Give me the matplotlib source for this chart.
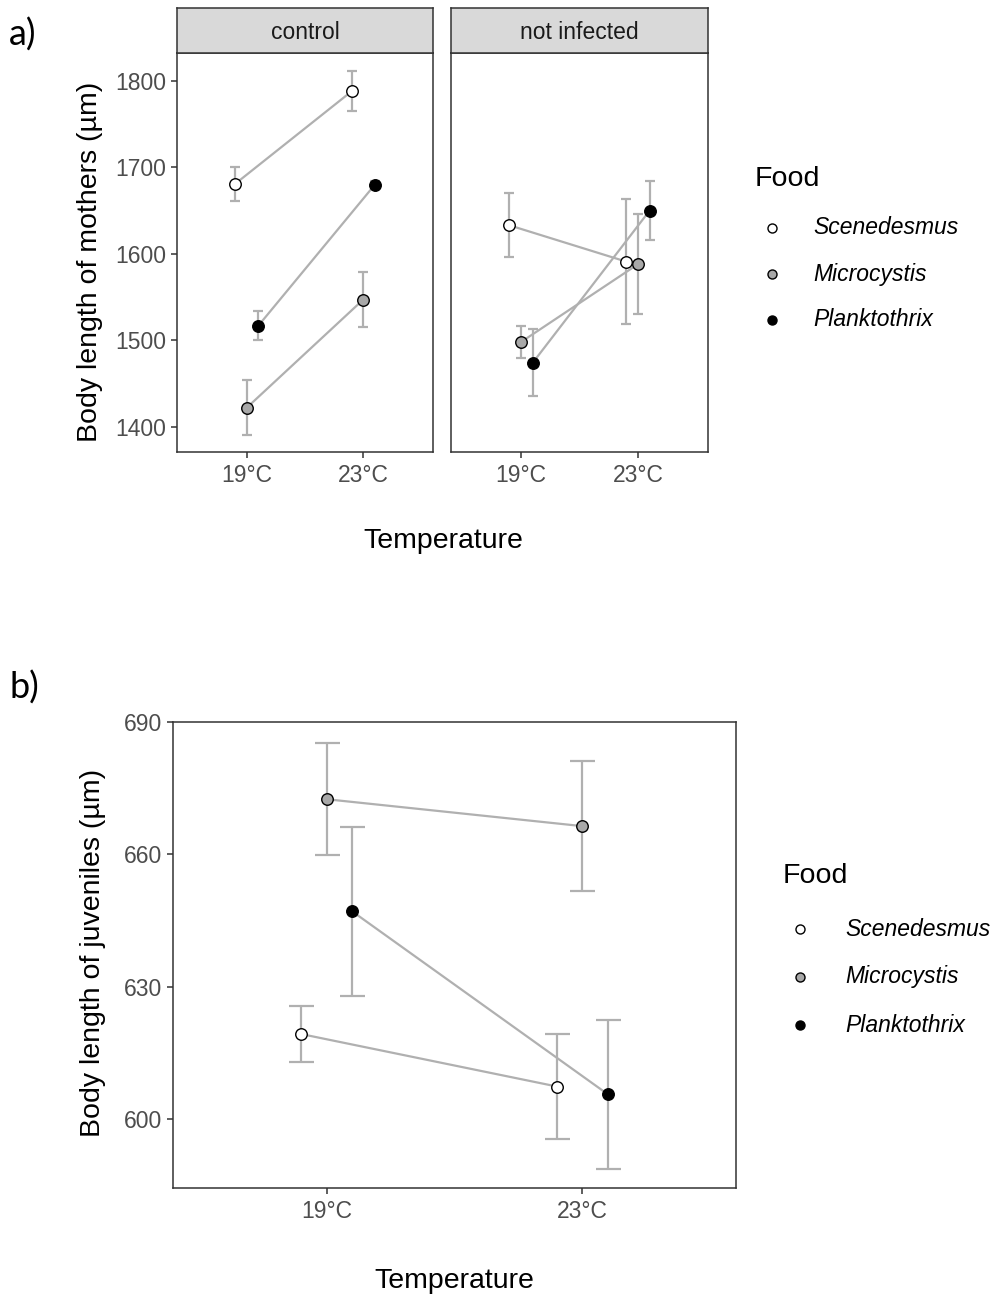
#import Libraries
import numpy as np
import matplotlib
matplotlib.use("Agg")
from matplotlib import pyplot as plt
from matplotlib.lines import Line2D
##################################################

# categories
foods = ["Scenedesmus", "Microcystis", "Planktothrix"]
temps = ["19°C", "23°C"]
facets = ["control", "not infected"]

# body length of mothers (mean, se) per facet / food
mothers_control_mean = [[1681, 1788], [1422, 1547], [1517, 1680]]
mothers_control_se = [[20, 23], [32, 32], [17, 4]]
mothers_notinf_mean = [[1633, 1591], [1498, 1588], [1474, 1650]]
mothers_notinf_se = [[37, 72], [19, 58], [39, 34]]

# body length of juveniles (mean, se) per food
juv_mean = [[619.3, 607.4], [672.5, 666.4], [647.1, 605.6]]
juv_se = [[6.4, 11.9], [12.7, 14.8], [19.2, 16.9]]

mothers_ticks = [1400, 1500, 1600, 1700, 1800]
juv_ticks = [600, 630, 660, 690]
##################################################

fill = {"Scenedesmus": "white", "Microcystis": "#A8A8A8", "Planktothrix": "black"}
dodge = {"Scenedesmus": -0.1, "Microcystis": 0.0, "Planktothrix": 0.1}
grey_line = "#B0B0B0"
dark = "#333333"
tick_col = "#4D4D4D"

plt.rcParams["font.family"] = ["Liberation Sans", "DejaVu Sans"]

W, H = 1003, 1298
fig = plt.figure(figsize=(W / 100, H / 100), dpi=100)


def px_axes(x0, y0, x1, y1, **kw):
    # axes from pixel box (top-left origin)
    return fig.add_axes([x0 / W, 1 - y1 / H, (x1 - x0) / W, (y1 - y0) / H], **kw)


def style_axes(ax, ylim, yticks, show_y=True):
    ax.set_xlim(0.4, 2.6)
    ax.set_ylim(*ylim)
    ax.set_xticks([1, 2])
    ax.set_xticklabels(temps)
    ax.set_yticks(yticks)
    if show_y:
        ax.set_yticklabels([str(t) for t in yticks])
    else:
        ax.tick_params(axis="y", left=False, labelleft=False)
    for s in ax.spines.values():
        s.set_color(dark)
        s.set_linewidth(1.1)
    ax.tick_params(colors=dark, labelcolor=tick_col, labelsize=16.5,
                   length=4.5, width=1.1, pad=3)
    ax.tick_params(axis="x", pad=4)


def draw_groups(ax, means, ses, capsize, ms):
    x = np.array([1, 2])
    # error bars and connecting lines first, points on top
    for i, f in enumerate(foods):
        xs = x + dodge[f]
        ax.errorbar(xs, means[i], yerr=ses[i], fmt="none", ecolor=grey_line,
                    elinewidth=1.6, capsize=capsize, capthick=1.6, zorder=1)
        ax.plot(xs, means[i], color=grey_line, lw=1.6, zorder=2)
    for i, f in enumerate(foods):
        xs = x + dodge[f]
        ax.plot(xs, means[i], ls="none", marker="o", ms=ms, mfc=fill[f],
                mec="black", mew=1.0, zorder=3)


def draw_legend(x_title, y_title, x_mark, x_text, ys):
    fig.text(x_title / W, 1 - y_title / H, "Food", fontsize=20.5,
             ha="left", va="center", color="black")
    for f, y in zip(foods, ys):
        fig.add_artist(Line2D([x_mark / W], [1 - y / H], transform=fig.transFigure,
                              ls="none", marker="o", ms=6.5, mfc=fill[f],
                              mec="black", mew=1.0))
        fig.text(x_text / W, 1 - y / H, f, fontsize=16.5, style="italic",
                 ha="left", va="center", color="black")
##################################################


# a) mothers, two facets
ylim_a = (1370.7, 1832.4)
boxes = [(177, 433), (451, 708)]
data_a = [(mothers_control_mean, mothers_control_se),
          (mothers_notinf_mean, mothers_notinf_se)]
for k, ((x0, x1), (m, s)) in enumerate(zip(boxes, data_a)):
    ax = px_axes(x0, 53, x1, 452)
    style_axes(ax, ylim_a, mothers_ticks, show_y=(k == 0))
    draw_groups(ax, m, s, capsize=3.8, ms=8.3)
    # facet strip
    st = px_axes(x0, 8, x1, 53)
    st.set_facecolor("#D9D9D9")
    st.set_xticks([])
    st.set_yticks([])
    for sp in st.spines.values():
        sp.set_color(dark)
        sp.set_linewidth(1.1)
    st.text(0.5, 0.45, facets[k], transform=st.transAxes, ha="center",
            va="center", fontsize=16.5, color="#1A1A1A")

fig.text(90 / W, 1 - 262 / H, "Body length of mothers (µm)", rotation=90,
         ha="center", va="center", fontsize=20.5)
fig.text(443 / W, 1 - 541 / H, "Temperature", ha="center", va="center",
         fontsize=20.5)
draw_legend(755, 179, 772, 813, [228, 274, 320])
fig.text(9 / W, 1 - 35 / H, "a)", fontsize=26, ha="left", va="center",
         family=["Lato", "DejaVu Sans"])
##################################################


# b) juveniles
axb = px_axes(173, 722, 736, 1188)
style_axes(axb, (584.4, 689.9), juv_ticks)
draw_groups(axb, juv_mean, juv_se, capsize=9, ms=8.3)

fig.text(93 / W, 1 - 953 / H, "Body length of juveniles (µm)", rotation=90,
         ha="center", va="center", fontsize=20.5)
fig.text(454 / W, 1 - 1281 / H, "Temperature", ha="center", va="center",
         fontsize=20.5)
draw_legend(783, 876, 800, 845, [929, 977, 1025])
fig.text(9 / W, 1 - 688 / H, "b)", fontsize=26, ha="left", va="center",
         family=["Lato", "DejaVu Sans"])
##################################################

fig.savefig("out.png", dpi=100)
